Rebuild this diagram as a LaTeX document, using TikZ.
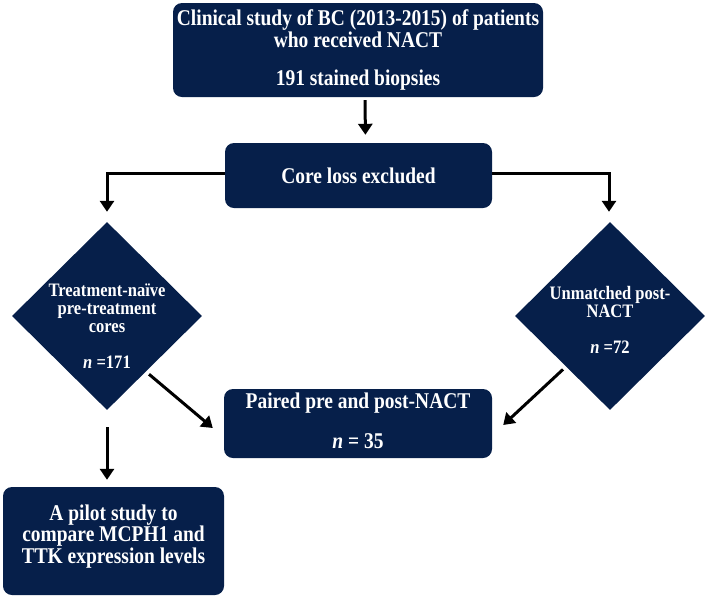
\documentclass[tikz,border=0pt]{standalone}
\usepackage{fontspec}
\setmainfont{Liberation Serif}
\newfontfamily\narrow[FakeStretch=0.865]{Liberation Serif}
\newfontfamily\dnarrow[FakeStretch=0.87]{Liberation Serif}
\usetikzlibrary{shapes.geometric,arrows.meta,calc}
\definecolor{navy}{HTML}{061F4A}
\tikzset{
  box/.style={rectangle, rounded corners=9pt, fill=navy, inner sep=0pt},
  btext/.style={text=white, font=\narrow\fontsize{22.5}{19}\selectfont\bfseries, align=center, inner sep=0pt, anchor=base},
  dia/.style={diamond, fill=navy, inner sep=0pt, aspect=1},
  dtext/.style={text=white, font=\dnarrow\fontsize{19}{18}\selectfont\bfseries, align=center, inner sep=0pt, anchor=base},
  arr/.style={line width=3pt, -{Triangle[width=14pt,length=11pt]}},
}
\begin{document}
\begin{tikzpicture}[x=1pt,y=-1pt]
\useasboundingbox (0,0) rectangle (709,598);
\node[box, minimum width=370pt, minimum height=94pt] (top) at (358,50) {};
\node[btext] (topt) at (358,85) {Clinical study of BC (2013-2015) of patients\\who received NACT\\[19pt]191 stained biopsies};
\node[box, minimum width=267pt, minimum height=65pt] (core) at (358.5,175.5) {};
\node[btext] (coret) at (358.5,183) {Core loss excluded};
\node[dia, minimum width=190pt, minimum height=188pt] (ld) at (107,316) {};
\node[dtext] (ldt) at (107,368) {Treatment-naïve\\pre-treatment\\cores\\[18pt]\textit{n} =171};
\node[dia, minimum width=190pt, minimum height=188pt] (rd) at (610,316) {};
\node[dtext] (rdt) at (610,353) {Unmatched post-\\NACT\\[18pt]\textit{n} =72};
\node[box, minimum width=268pt, minimum height=69pt] (pb) at (358,423.5) {};
\node[btext] (pbt) at (358,448) {Paired pre and post-NACT\\[19pt]\textit{n} = 35};
\node[box, minimum width=221pt, minimum height=108pt] (pilot) at (113.5,541) {};
\node[btext] (pilott) at (113.5,563) {A pilot study to\\compare MCPH1 and\\TTK expression levels};

\draw[arr, shorten <=3pt, shorten >=8pt] ([xshift=7pt]top.south) -- ([xshift=7pt]core.north);
\draw[arr, shorten >=10pt] ([yshift=2.5pt]core.west) -| (ld.north);
\draw[arr, shorten >=10pt] ([yshift=2.5pt]core.east) -| ([xshift=-1pt]rd.north);
\draw[arr, shorten <=4pt] (ld.-55) -- ([xshift=-11pt,yshift=-4.5pt]pb.west);
\draw[arr, shorten <=4pt] (rd.229) -- ([xshift=11pt,yshift=-1.5pt]pb.east);
\draw[arr, shorten <=17pt, shorten >=7pt] (ld.south) -- (pilot.north -| ld.south);
\end{tikzpicture}
\end{document}
